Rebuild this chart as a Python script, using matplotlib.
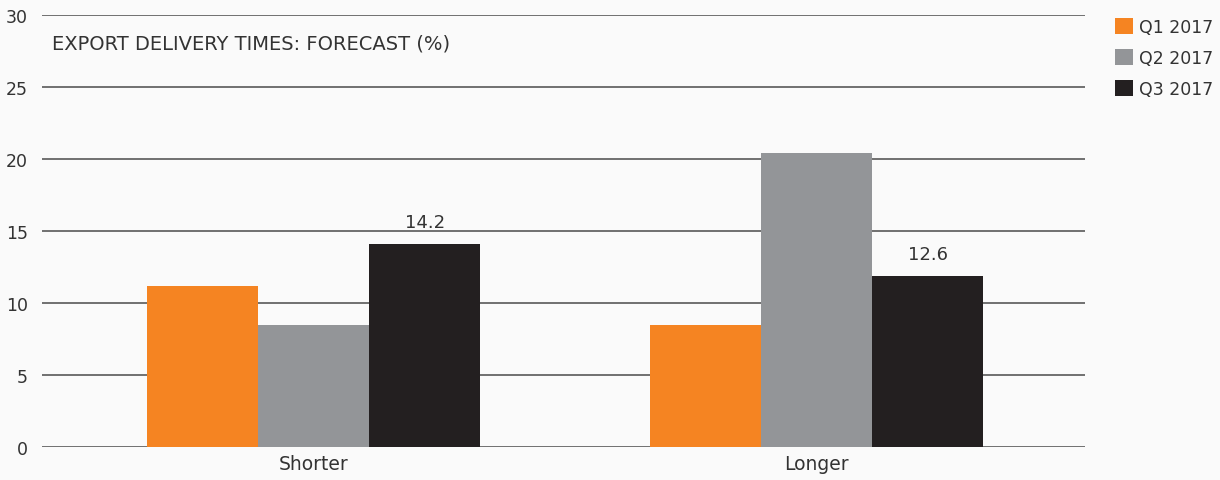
import matplotlib.pyplot as plt
import numpy as np

# data
categories = ["Shorter", "Longer"]
series_names = ["Q1 2017", "Q2 2017", "Q3 2017"]
q1_values = [11.2, 8.5]
q2_values = [8.5, 20.4]
q3_values = [14.1, 11.9]
q3_labels = ["14.2", "12.6"]
y_ticks = [0, 5, 10, 15, 20, 25, 30]

colors = ["#F58422", "#939598", "#231F20"]
text_color = "#333333"

plt.rcParams['font.family'] = ['DejaVu Sans']

fig = plt.figure(figsize=(12.2, 4.81), dpi=100, facecolor="#fafafa")
ax = fig.add_axes([0.0344, 0.0686, 0.8546, 0.8981])
ax.set_facecolor("none")

x = np.arange(len(categories))
width = 0.221
bars = []
for i, vals in enumerate([q1_values, q2_values, q3_values]):
    b = ax.bar(x + (i - 1) * width, vals, width, color=colors[i],
               label=series_names[i], zorder=3, linewidth=0)
    bars.append(b)

# value labels only on Q3 bars
for rect, lab in zip(bars[2], q3_labels):
    ax.annotate(lab, (rect.get_x() + rect.get_width() / 2, rect.get_height()),
                xytext=(0, 9), textcoords="offset points",
                ha="center", va="bottom", fontsize=13, color=text_color)

ax.set_ylim(0, 30)
ax.set_xlim(-0.54, 1.533)
ax.set_yticks(y_ticks)
ax.set_xticks(x)
ax.set_xticklabels(categories, fontsize=13.5)
ax.yaxis.grid(True, color="#4a4a4a", linewidth=1.1, zorder=1)
ax.set_axisbelow(True)
for s in ax.spines.values():
    s.set_visible(False)
ax.tick_params(axis="both", length=0, colors=text_color)
ax.tick_params(axis="y", pad=10, labelsize=12.5)
ax.tick_params(axis="x", pad=5)

ax.text(0.0095, 0.935, "EXPORT DELIVERY TIMES: FORECAST (%)", transform=ax.transAxes,
        fontsize=14, color=text_color, va="center", ha="left")

leg = fig.legend(loc="upper left", bbox_to_anchor=(0.908, 0.975), frameon=False,
                 fontsize=12.5, handlelength=1.05, handleheight=1.05,
                 handletextpad=0.35, labelspacing=0.75, borderaxespad=0)
for t in leg.get_texts():
    t.set_color(text_color)

fig.savefig("out.png", dpi=100, facecolor=fig.get_facecolor())
